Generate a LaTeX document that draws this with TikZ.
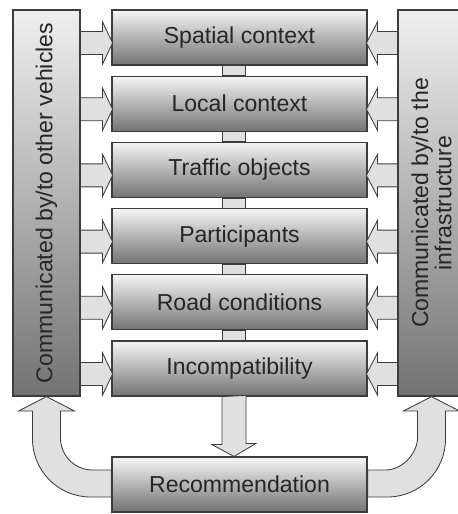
\documentclass[tikz,border=0pt]{standalone}
\usepackage{fontspec}
\setmainfont{Liberation Sans}
\usetikzlibrary{calc}

\definecolor{edgegray}{HTML}{3C3C3C}
\definecolor{arrowfill}{HTML}{E0E0E0}
\tikzset{
  stage/.style={draw=edgegray, line width=0.8pt, top color=black!4, bottom color=black!55,
    minimum width=6.375cm, minimum height=1.375cm, inner sep=0pt, text=black!85,
    font=\fontsize{16.4}{16.5}\selectfont},
  sidebox/.style={draw=edgegray, line width=0.8pt, top color=black!6, bottom color=black!55,
    minimum width=1.675cm, minimum height=9.65cm, inner sep=0pt},
  sidetext/.style={rotate=90, align=center, text=black!85, font=\fontsize{16.4}{16.5}\selectfont},
  fatarrow/.style={draw=edgegray, line width=0.6pt, fill=arrowfill, line join=miter},
}

\begin{document}
\begin{tikzpicture}[x=0.025cm,y=-0.025cm]
  \useasboundingbox (0,0) rectangle (458,514);

  % side boxes
  \node[sidebox] (veh) at (46.5,203) {};
  \node[sidebox] (inf) at (431.5,203) {};
  \node[sidetext] (vehtext) at (veh) {Communicated by/to other vehicles};
  \node[sidetext] (inftext) at (inf) {Communicated by/to the\\infrastructure};

  % stages
  \node[stage] (sp) at (239.5,37.5) {Spatial context};
  \node[stage] (lc) at (239.5,103.7) {Local context};
  \node[stage] (to) at (239.5,169.9) {Traffic objects};
  \node[stage] (pa) at (239.5,236.1) {Participants};
  \node[stage] (rc) at (239.5,302.3) {Road conditions};
  \node[stage] (ic) at (239.5,368.5) {Incompatibility};
  \node[stage] (rec) at (239.5,484.5) {Recommendation};

  % links between stages
  \foreach \a/\b in {sp/lc,lc/to,to/pa,pa/rc,rc/ic}
    \draw[fatarrow] ($(\a.south)+(-17,0)$) rectangle ($(\b.north)+(6,0)$);

  % arrows from the side boxes
  \foreach \b in {sp,lc,to,pa,rc,ic} {
    \draw[fatarrow] ($(veh.east |- \b.west)+(0,-6)$) -- ++(22,0) -- ++(0,-9.5)
      -- ++(10,21) -- ++(-10,21) -- ++(0,-9.5) -- ++(-22,0) -- cycle;
    \draw[fatarrow] ($(inf.west |- \b.east)+(0,-6)$) -- ++(-20,0) -- ++(0,-9.5)
      -- ++(-11,21) -- ++(11,21) -- ++(0,-9.5) -- ++(20,0) -- cycle;
  }

  % down to the recommendation
  \draw[fatarrow] ($(ic.south)+(-17.5,0)$) -- ++(0,48) -- ++(-10,0)
    -- ($(rec.north)+(-5.5,0)$) -- ++(22,-13) -- ++(-10,0) -- ++(0,-48) -- cycle;

  % back to the side boxes
  \draw[fatarrow] ($(rec.west)+(0,-14.5)$) -- (92.5,470)
    .. controls (74.8,470) and (60.5,455.7) .. (60.5,438)
    -- (60.5,411) -- (74.5,411) -- (veh.south) -- (18.5,411) -- (32.5,411)
    -- (32.5,439) .. controls (32.5,471) and (58.5,497) .. (90.5,497)
    -- ($(rec.west)+(0,12.5)$) -- cycle;
  \draw[fatarrow] ($(rec.east)+(0,-14.5)$) -- (385.5,470)
    .. controls (403.2,470) and (417.5,452.3) .. (417.5,438)
    -- (417.5,411) -- (403.5,411) -- (inf.south) -- (459.5,411) -- (445.5,411)
    -- (445.5,439) .. controls (445.5,471) and (419.5,497) .. (387.5,497)
    -- ($(rec.east)+(0,12.5)$) -- cycle;
\end{tikzpicture}
\end{document}
